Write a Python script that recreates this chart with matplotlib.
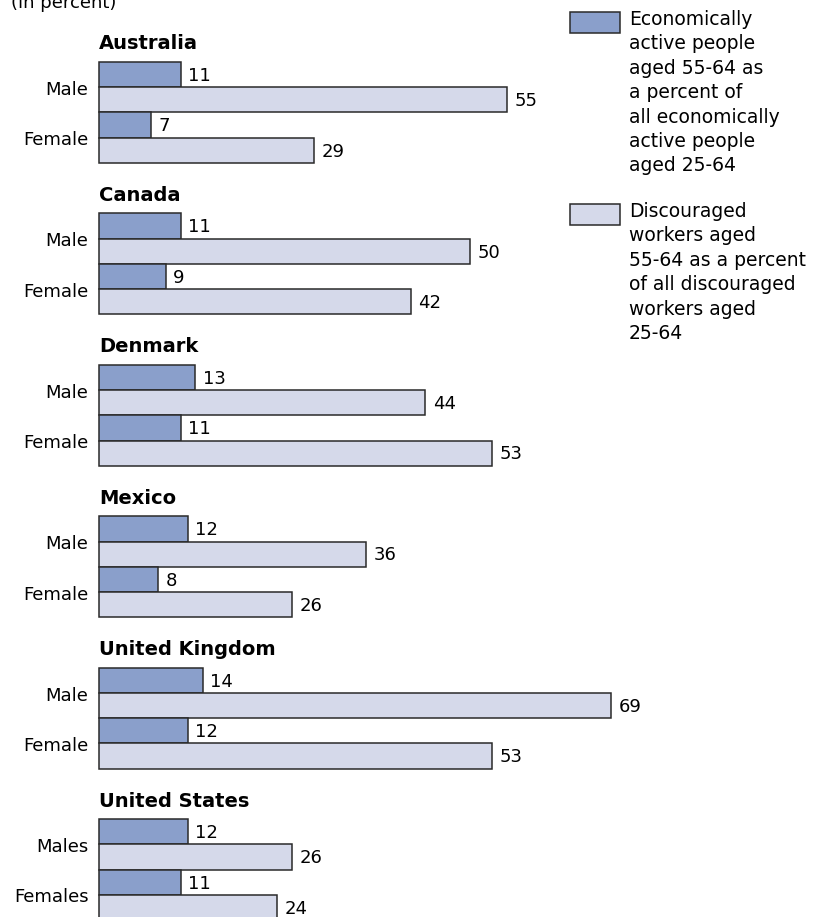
import matplotlib
matplotlib.use("Agg")
import matplotlib.pyplot as plt
from matplotlib.patches import Rectangle

countries = ["Australia", "Canada", "Denmark", "Mexico", "United Kingdom", "United States"]
sex_labels = [["Male", "Female"], ["Male", "Female"], ["Male", "Female"],
              ["Male", "Female"], ["Male", "Female"], ["Males", "Females"]]
active = [[11, 7], [11, 9], [13, 11], [12, 8], [14, 12], [12, 11]]
discouraged = [[55, 29], [50, 42], [44, 53], [36, 26], [69, 53], [26, 24]]
legend_labels = [
    "Economically\nactive people\naged 55-64 as\na percent of\nall economically\nactive people\naged 25-64",
    "Discouraged\nworkers aged\n55-64 as a percent\nof all discouraged\nworkers aged\n25-64",
]

C_DARK = "#8a9fcb"
C_LIGHT = "#d5d9ea"
EDGE = "#2a2a2a"
FS = 13

W, H = 814, 917
fig = plt.figure(figsize=(W / 100, H / 100), dpi=100)
ax = fig.add_axes([0, 0, 1, 1])
PXU = 7.42
LEFT = 99
BARH = 25.24
TOP = 62
ax.set_xlim(-LEFT / PXU, (W - LEFT) / PXU)
ax.set_ylim((H - TOP) / BARH, -TOP / BARH)
ax.axis("off")

for i, c in enumerate(countries):
    g = i * 6
    ax.text(0, g - 0.72, c, fontsize=14, fontweight="bold", ha="left", va="center")
    for j in range(2):
        y_a = g + 2 * j + 0.5
        y_d = g + 2 * j + 1.5
        ax.barh(y_a, active[i][j], height=1, color=C_DARK, edgecolor=EDGE, linewidth=1.1)
        ax.barh(y_d, discouraged[i][j], height=1, color=C_LIGHT, edgecolor=EDGE, linewidth=1.1)
        ax.text(active[i][j] + 1.0, y_a + 0.05, str(active[i][j]), fontsize=FS, ha="left", va="center")
        ax.text(discouraged[i][j] + 1.0, y_d + 0.05, str(discouraged[i][j]), fontsize=FS, ha="left", va="center")
        ax.text(-1.4, g + 2 * j + 1.1, sex_labels[i][j], fontsize=FS, ha="right", va="center")

fig.text(11 / W, 1 - 8 / H, "(in percent)", fontsize=FS, ha="left", va="baseline")

# legend
leg = [(C_DARK, 12, legend_labels[0]), (C_LIGHT, 204, legend_labels[1])]
for col, ytop, lab in leg:
    fig.patches.append(Rectangle((570 / W, 1 - (ytop + 21) / H), 50 / W, 21 / H,
                                 transform=fig.transFigure, facecolor=col,
                                 edgecolor=EDGE, linewidth=1.1))
    fig.text(629 / W, 1 - (ytop - 2) / H, lab, fontsize=13.5, ha="left", va="top",
             linespacing=1.36)

fig.savefig("out.png", dpi=100)
